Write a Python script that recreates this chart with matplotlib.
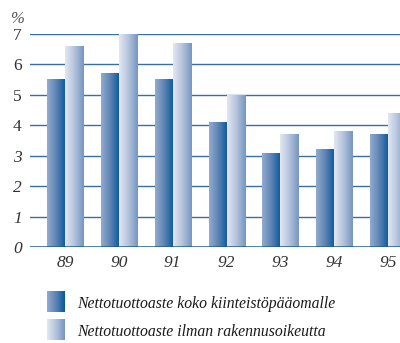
import numpy as np
import matplotlib
matplotlib.use("Agg")
import matplotlib.pyplot as plt
from matplotlib.colors import LinearSegmentedColormap

years = ["89", "90", "91", "92", "93", "94", "95"]
koko = [5.5, 5.7, 5.5, 4.1, 3.1, 3.2, 3.7]
ilman = [6.6, 7.0, 6.7, 5.0, 3.7, 3.8, 4.4]
series_labels = ["Nettotuottoaste koko kiinteistöpääomalle",
                 "Nettotuottoaste ilman rakennusoikeutta"]
yticks = [0, 1, 2, 3, 4, 5, 6, 7]

cmap_dark = LinearSegmentedColormap.from_list("dark", ["#92abcd", "#5d83b5", "#08589a"])
cmap_light = LinearSegmentedColormap.from_list("light", ["#e2e8f2", "#b3c3dc", "#7595c1"])

serif = ["Liberation Serif", "DejaVu Serif"]

fig = plt.figure(figsize=(4.0, 3.43), dpi=100)
ax = fig.add_axes([0.075, 0.2799, 0.925, 0.622])

x = np.arange(len(years))
w = 0.335
grad = np.linspace(0, 1, 64).reshape(1, -1)


def gradient_bars(xpos, vals, cmap):
    bars = ax.bar(xpos, vals, width=w, color="none", edgecolor="none", zorder=3)
    for b in bars:
        x0, y0 = b.get_x(), b.get_y()
        im = ax.imshow(grad, cmap=cmap, aspect="auto", interpolation="bicubic",
                       extent=(x0, x0 + b.get_width(), y0, y0 + b.get_height()),
                       zorder=3)
        im.set_clip_path(b)


for v in yticks[1:]:
    ax.axhline(v, color="#3a6fa3", lw=1.0, zorder=1)
ax.axhline(0, color="#1d5a92", lw=1.8, zorder=4)

gradient_bars(x - w / 2, koko, cmap_dark)
gradient_bars(x + w / 2, ilman, cmap_light)

ax.set_xlim(-0.65, 6.22)
ax.set_ylim(0, 7)
for s in ax.spines.values():
    s.set_visible(False)
ax.set_yticks(yticks)
ax.set_yticklabels([str(t) for t in yticks], family=serif, fontsize=12.5, color="#333333")
for t, lbl in zip(yticks, ax.get_yticklabels()):
    lbl.set_style("italic" if t < 4 else "normal")
ax.set_xticks(x)
ax.set_xticklabels(years, family=serif, style="italic", fontsize=12.5, color="#333333")
ax.tick_params(axis="both", length=0)
ax.tick_params(axis="y", pad=6)
ax.tick_params(axis="x", pad=6)

fig.text(0.025, 0.945, "%", family=serif, style="italic", fontsize=12,
         color="#555555", ha="left", va="center")

# legend swatches with the same gradients
for i, (cm, lab) in enumerate([(cmap_dark, series_labels[0]), (cmap_light, series_labels[1])]):
    top = 291 + i * 28
    sw = fig.add_axes([47 / 400, 1 - (top + 21) / 343, 18 / 400, 21 / 343])
    sw.imshow(grad, cmap=cm, aspect="auto", interpolation="bicubic")
    sw.axis("off")
    fig.text(77 / 400, 1 - (top + 13) / 343, lab, family=serif, style="italic",
             fontsize=11.3, color="#1a1a1a", ha="left", va="center")

fig.savefig("out.png", dpi=100)
